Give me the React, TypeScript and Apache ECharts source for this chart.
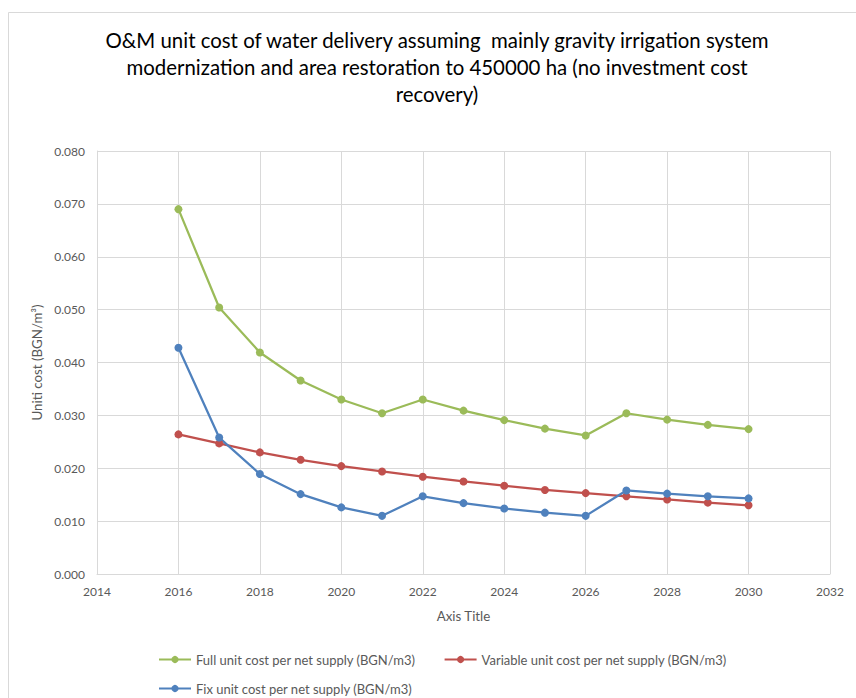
import React, { useEffect, useRef } from "react";
import * as echarts from "echarts";

const years = [2016, 2017, 2018, 2019, 2020, 2021, 2022, 2023, 2024, 2025, 2026, 2027, 2028, 2029, 2030];
const fullCost = [0.0690, 0.0504, 0.0419, 0.0366, 0.0330, 0.0304, 0.0330, 0.0309, 0.0291, 0.0275, 0.0262, 0.0304, 0.0292, 0.0282, 0.0274];
const variableCost = [0.0264, 0.0247, 0.0230, 0.0216, 0.0204, 0.0194, 0.0184, 0.0175, 0.0167, 0.0159, 0.0153, 0.0147, 0.0141, 0.0135, 0.0130];
const fixCost = [0.0428, 0.0258, 0.0189, 0.0151, 0.0126, 0.0110, 0.0147, 0.0134, 0.0124, 0.0116, 0.0110, 0.0158, 0.0152, 0.0147, 0.0143];

const seriesNames = [
  "Full unit cost per net supply (BGN/m3)",
  "Variable unit cost per net supply (BGN/m3)",
  "Fix unit cost per net supply (BGN/m3)",
];
const colors = ["#9bbb59", "#c0504d", "#4f81bd"];
const titleText =
  "O&M unit cost of water delivery assuming  mainly gravity irrigation system\nmodernization and area restoration to 450000 ha (no investment cost\nrecovery)";

const FONT = "Lato, 'Open Sans', sans-serif";

export default function App() {
  const ref = useRef<HTMLDivElement>(null);
  useEffect(() => {
    if (!ref.current) return;
    const chart = echarts.init(ref.current, null, { renderer: "svg" });
    const mk = (vals: number[]) => years.map((y, i) => [y, vals[i]]);
    const allData = [fullCost, variableCost, fixCost];
    chart.setOption({
      animation: false,
      textStyle: { fontFamily: FONT },
      graphic: [
        {
          type: "rect",
          shape: { x: 8.5, y: 12.5, width: 900, height: 800 },
          style: { fill: "none", stroke: "#d9d9d9", lineWidth: 1 },
          silent: true,
        },
        {
          type: "text",
          x: 437,
          y: 26,
          silent: true,
          style: {
            text: titleText,
            fontFamily: FONT,
            fontSize: 20.4,
            fontWeight: "normal",
            fill: "#000000",
            lineHeight: 27,
            align: "center",
            verticalAlign: "top",
          },
        },
      ],
      grid: { left: 97, right: 26, top: 151, bottom: 124 },
      xAxis: {
        type: "value",
        min: 2014,
        max: 2032,
        interval: 2,
        name: "Axis Title",
        nameLocation: "middle",
        nameGap: 35,
        nameTextStyle: { color: "#595959", fontSize: 13.3, fontFamily: FONT },
        axisLine: { show: true, lineStyle: { color: "#d9d9d9" } },
        axisTick: { show: false },
        axisLabel: {
          color: "#595959",
          fontSize: 12,
          margin: 11,
          fontFamily: FONT,
          formatter: (v: number) => String(v),
        },
        splitLine: { show: true, lineStyle: { color: "#d9d9d9", width: 1 } },
      },
      yAxis: {
        type: "value",
        min: 0,
        max: 0.08,
        interval: 0.01,
        name: "Uniti cost (BGN/m³)",
        nameLocation: "middle",
        nameGap: 48,
        nameTextStyle: { color: "#595959", fontSize: 13.3, fontFamily: FONT },
        axisLine: { show: true, lineStyle: { color: "#d9d9d9" } },
        axisTick: { show: false },
        axisLabel: {
          color: "#595959",
          fontSize: 12,
          margin: 12,
          fontFamily: FONT,
          formatter: (v: number) => v.toFixed(3),
        },
        splitLine: { show: true, lineStyle: { color: "#d9d9d9", width: 1 } },
      },
      legend: [
        {
          data: [seriesNames[0], seriesNames[1]],
          left: 153,
          top: 648,
          itemWidth: 32,
          itemHeight: 9,
          itemGap: 28,
          textStyle: { color: "#595959", fontSize: 13, fontFamily: FONT },
        },
        {
          data: [seriesNames[2]],
          left: 153,
          top: 677,
          itemWidth: 32,
          itemHeight: 9,
          textStyle: { color: "#595959", fontSize: 13, fontFamily: FONT },
        },
      ],
      series: allData.map((vals, i) => ({
        name: seriesNames[i],
        type: "line",
        data: mk(vals),
        symbol: "circle",
        symbolSize: 8,
        color: colors[i],
        lineStyle: { width: 2.25, color: colors[i] },
        itemStyle: { color: colors[i] },
      })),
    });
    return () => chart.dispose();
  }, []);
  return (
    <div
      ref={ref}
      style={{ position: "absolute", left: 0, top: 0, width: 856, height: 698 }}
    />
  );
}
